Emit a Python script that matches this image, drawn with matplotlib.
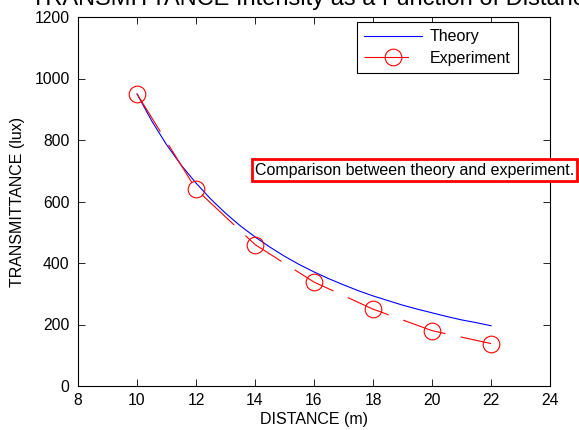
import numpy as np
import matplotlib.pyplot as plt

plt.rcParams['font.family'] = ['Liberation Sans', 'DejaVu Sans']
plt.rcParams['font.size'] = 11.5

# theory curve
dist_theory = [10, 10.5, 11, 11.5, 12, 12.5, 13, 13.5, 14, 14.5, 15, 15.5, 16,
               16.5, 17, 17.5, 18, 18.5, 19, 19.5, 20, 20.5, 21, 21.5, 22]
lux_theory = [950, 862, 785, 718, 660, 608, 562, 521, 485, 452, 422, 395, 371,
              349, 329, 310, 293, 278, 263, 250, 238, 226, 215, 206, 196]

# measured points
dist_exp = [10, 12, 14, 16, 18, 20, 22]
lux_exp = [950, 640, 460, 338, 250, 180, 138]

fig = plt.figure(figsize=(5.79, 4.30), dpi=100)
ax = fig.add_axes([78 / 579, 1 - 386 / 430, 472 / 579, 369 / 430])

ax.plot(dist_theory, lux_theory, color='blue', lw=0.8, label='Theory')
ax.plot(dist_exp, lux_exp, color='red', lw=0.8, linestyle=(0, (40, 14)),
        marker='o', markersize=12, markerfacecolor='none', markeredgecolor='red',
        markeredgewidth=0.8, label='Experiment')

ax.set_xlim(8, 24)
ax.set_ylim(0, 1200)
ax.set_xticks(np.arange(8, 25, 2))
ax.set_yticks(np.arange(0, 1201, 200))
ax.tick_params(direction='in', top=True, right=True, length=5, width=0.6,
               labelsize=11.3)
ax.tick_params(axis='y', pad=6)
ax.tick_params(axis='x', pad=5)
for s in ax.spines.values():
    s.set_linewidth(0.8)

ax.set_xlabel('DISTANCE (m)', labelpad=3)
ax.set_ylabel('TRANSMITTANCE (lux)', labelpad=7)
ax.set_title('TRANSMITTANCE Intensity as a Function of Distance', fontsize=17, pad=8.6)

leg = ax.legend(loc='upper right', bbox_to_anchor=(0.932, 0.986), fancybox=False,
                edgecolor='black', framealpha=1, handlelength=3.6, handletextpad=0.5,
                borderpad=0.45, labelspacing=0.4, borderaxespad=0, fontsize=11.5)
leg.get_frame().set_linewidth(0.8)

fig.text(255 / 579, 1 - 170 / 430, 'Comparison between theory and experiment.',
         va='center', ha='left', fontsize=11.5,
         bbox=dict(boxstyle='square,pad=0.2', facecolor='white', edgecolor='red', lw=2))

plt.savefig('out.png', dpi=100)
